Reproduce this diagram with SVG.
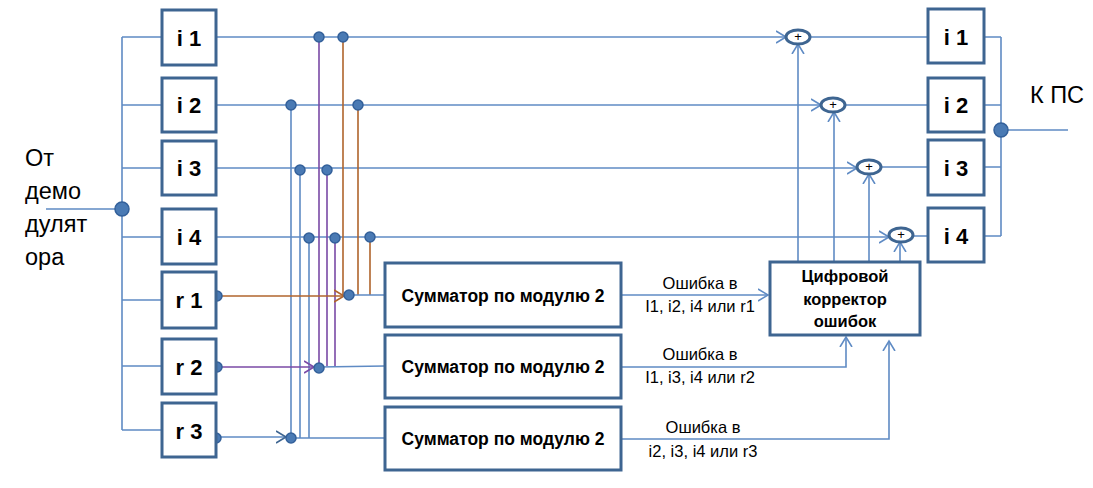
<svg xmlns="http://www.w3.org/2000/svg" width="1093" height="488" viewBox="0 0 1093 488">
<style>
.box{fill:#fff;stroke:#3e6591;stroke-width:3}
.bl{fill:#000;font-family:"Liberation Sans",Arial,sans-serif;font-weight:bold;font-size:22px;text-anchor:middle}
.sm{fill:#000;font-family:"Liberation Sans",Arial,sans-serif;font-weight:bold;font-size:17.5px;text-anchor:middle}
.cr{fill:#000;font-family:"Liberation Sans",Arial,sans-serif;font-weight:bold;font-size:16.5px;text-anchor:middle}
.lb{fill:#000;font-family:"Liberation Sans",Arial,sans-serif;font-size:16.5px;text-anchor:middle}
.big{fill:#000;font-family:"Liberation Sans",Arial,sans-serif;font-size:23.5px}
.w{fill:none;stroke:#5f8bc4;stroke-width:1.6}
.pu{fill:none;stroke:#7a4aa6;stroke-width:1.6}
.br{fill:none;stroke:#b0642c;stroke-width:1.6}
.dot{fill:#4a7ab4;stroke:#33609a;stroke-width:1.5}
.sum{fill:#fff;stroke:#3e6591;stroke-width:3}
.plus{fill:#000;font-family:"Liberation Sans",Arial,sans-serif;font-size:13px;text-anchor:middle}
</style>
<defs>
<marker id="ab" markerUnits="userSpaceOnUse" markerWidth="12" markerHeight="14" refX="10" refY="7" orient="auto"><path d="M0,1 L10,7 L0,13" fill="none" stroke="#5f8bc4" stroke-width="1.6"/></marker>
<marker id="ad" markerUnits="userSpaceOnUse" markerWidth="12" markerHeight="14" refX="10" refY="7" orient="auto"><path d="M0,1 L10,7 L0,13" fill="none" stroke="#3e6591" stroke-width="1.6"/></marker>
<marker id="ap" markerUnits="userSpaceOnUse" markerWidth="12" markerHeight="14" refX="10" refY="7" orient="auto"><path d="M0,1 L10,7 L0,13" fill="none" stroke="#7a4aa6" stroke-width="1.6"/></marker>
<marker id="abr" markerUnits="userSpaceOnUse" markerWidth="12" markerHeight="14" refX="10" refY="7" orient="auto"><path d="M0,1 L10,7 L0,13" fill="none" stroke="#b0642c" stroke-width="1.6"/></marker>
</defs>

<g id="connectors">
<path class="w" d="M46,209 H122 M122,37 V430 M122,37 H162 M122,105 H162 M122,168 H162 M122,237 H162 M122,300 H162 M122,366 H162 M122,430 H162"/>
<path class="w" d="M216,37 H786" marker-end="url(#ab)"/>
<path class="w" d="M216,105 H821" marker-end="url(#ab)"/>
<path class="w" d="M216,168 H857" marker-end="url(#ab)"/>
<path class="w" d="M216,237 H889" marker-end="url(#ab)"/>
<path class="w" d="M810,37 H928 M845,105 H928 M881,167 H928 M913,236 H928"/>
<path class="w" d="M984,37 H1001 M984,105 H1001 M984,167 H1001 M984,236 H1001 M1001,37 V236 M1001,130 H1068"/>
<path class="w" d="M291,105 V438 M300,168 V438 M309,237 V438"/>
<path class="pu" d="M319,37 V367 M327,168 V366 M335,237 V366"/>
<path class="br" d="M343,37 V295 M358,105 V295 M370,237 V295"/>
<path class="br" d="M217,296 H344" marker-end="url(#abr)"/>
<path class="pu" d="M217,367 H314" marker-end="url(#ap)"/>
<path class="w" d="M216,437 H286" stroke="#3e6591" marker-end="url(#ad)"/>
<path class="w" d="M349,295 H385 M319,367 L385,366 M291,438 H385"/>
<path class="w" d="M621,295 H768" marker-end="url(#ab)"/>
<path class="w" d="M621,367 H846 V337" marker-end="url(#ab)"/>
<path class="w" d="M621,439 H889 V341" marker-end="url(#ab)"/>
<path class="w" d="M798,262 V44" marker-end="url(#ab)"/>
<path class="w" d="M834,262 V112" marker-end="url(#ab)"/>
<path class="w" d="M869,262 V174" marker-end="url(#ab)"/>
<path class="w" d="M900,262 V242" marker-end="url(#ab)"/>
<circle class="dot" cx="122" cy="209" r="7"/>
<circle class="dot" cx="1001" cy="130" r="7"/>
<circle class="dot" cx="319" cy="37" r="5"/>
<circle class="dot" cx="343" cy="37" r="5"/>
<circle class="dot" cx="291" cy="105" r="5"/>
<circle class="dot" cx="358" cy="105" r="5"/>
<circle class="dot" cx="300" cy="170" r="5"/>
<circle class="dot" cx="327" cy="170" r="5"/>
<circle class="dot" cx="309" cy="238" r="5"/>
<circle class="dot" cx="335" cy="238" r="5"/>
<circle class="dot" cx="370" cy="237" r="5"/>
<circle class="dot" cx="349" cy="295" r="5"/>
<circle class="dot" cx="319" cy="368" r="5"/>
<circle class="dot" cx="291" cy="438" r="5"/>
<circle class="dot" cx="217" cy="296" r="5"/>
<circle class="dot" cx="217" cy="367" r="5"/>
<circle class="dot" cx="216" cy="438" r="5"/>
</g>

<g id="labels">
<text class="big" x="25" y="166">От</text>
<text class="big" x="25" y="199">демо</text>
<text class="big" x="25" y="232">дулят</text>
<text class="big" x="25" y="265">ора</text>
<text class="big" x="1030" y="103">К ПС</text>
<text class="lb" x="700" y="289">Ошибка в</text>
<text class="lb" x="700" y="312">I1, i2, i4 или r1</text>
<text class="lb" x="700" y="360">Ошибка в</text>
<text class="lb" x="700" y="383">I1, i3, i4 или r2</text>
<text class="lb" x="703" y="433">Ошибка в</text>
<text class="lb" x="703" y="457">i2, i3, i4 или r3</text>
</g>

<g id="in-i1"><rect class="box" x="162" y="10" width="54" height="55"/><text class="bl" x="189" y="46">i 1</text></g>
<g id="in-i2"><rect class="box" x="162" y="78" width="54" height="54"/><text class="bl" x="189" y="113">i 2</text></g>
<g id="in-i3"><rect class="box" x="162" y="141" width="54" height="54"/><text class="bl" x="189" y="176">i 3</text></g>
<g id="in-i4"><rect class="box" x="162" y="209" width="54" height="55"/><text class="bl" x="189" y="245">i 4</text></g>
<g id="in-r1"><rect class="box" x="162" y="272" width="54" height="56"/><text class="bl" x="189" y="308">r 1</text></g>
<g id="in-r2"><rect class="box" x="162" y="339" width="54" height="55"/><text class="bl" x="189" y="375">r 2</text></g>
<g id="in-r3"><rect class="box" x="162" y="403" width="54" height="54"/><text class="bl" x="189" y="439">r 3</text></g>

<g id="sum1"><rect class="box" x="385" y="263" width="236" height="64"/><text class="sm" x="503" y="302">Сумматор по модулю 2</text></g>
<g id="sum2"><rect class="box" x="385" y="335" width="236" height="63"/><text class="sm" x="503" y="373">Сумматор по модулю 2</text></g>
<g id="sum3"><rect class="box" x="385" y="407" width="236" height="63"/><text class="sm" x="503" y="445">Сумматор по модулю 2</text></g>

<g id="corrector"><rect class="box" x="770" y="262" width="150" height="73"/>
<text class="cr" x="845" y="282">Цифровой</text><text class="cr" x="845" y="305">корректор</text><text class="cr" x="845" y="327">ошибок</text></g>

<g id="add1"><ellipse class="sum" cx="798" cy="37" rx="12" ry="7"/><text class="plus" x="798" y="41">+</text></g>
<g id="add2"><ellipse class="sum" cx="833" cy="105" rx="12" ry="7"/><text class="plus" x="833" y="109">+</text></g>
<g id="add3"><ellipse class="sum" cx="869" cy="167" rx="12" ry="7"/><text class="plus" x="869" y="171">+</text></g>
<g id="add4"><ellipse class="sum" cx="901" cy="235" rx="12" ry="7"/><text class="plus" x="901" y="239">+</text></g>

<g id="out-i1"><rect class="box" x="928" y="9" width="56" height="54"/><text class="bl" x="956" y="45">i 1</text></g>
<g id="out-i2"><rect class="box" x="928" y="78" width="56" height="54"/><text class="bl" x="956" y="113">i 2</text></g>
<g id="out-i3"><rect class="box" x="928" y="140" width="56" height="55"/><text class="bl" x="956" y="176">i 3</text></g>
<g id="out-i4"><rect class="box" x="928" y="208" width="56" height="54"/><text class="bl" x="956" y="244">i 4</text></g>
</svg>
